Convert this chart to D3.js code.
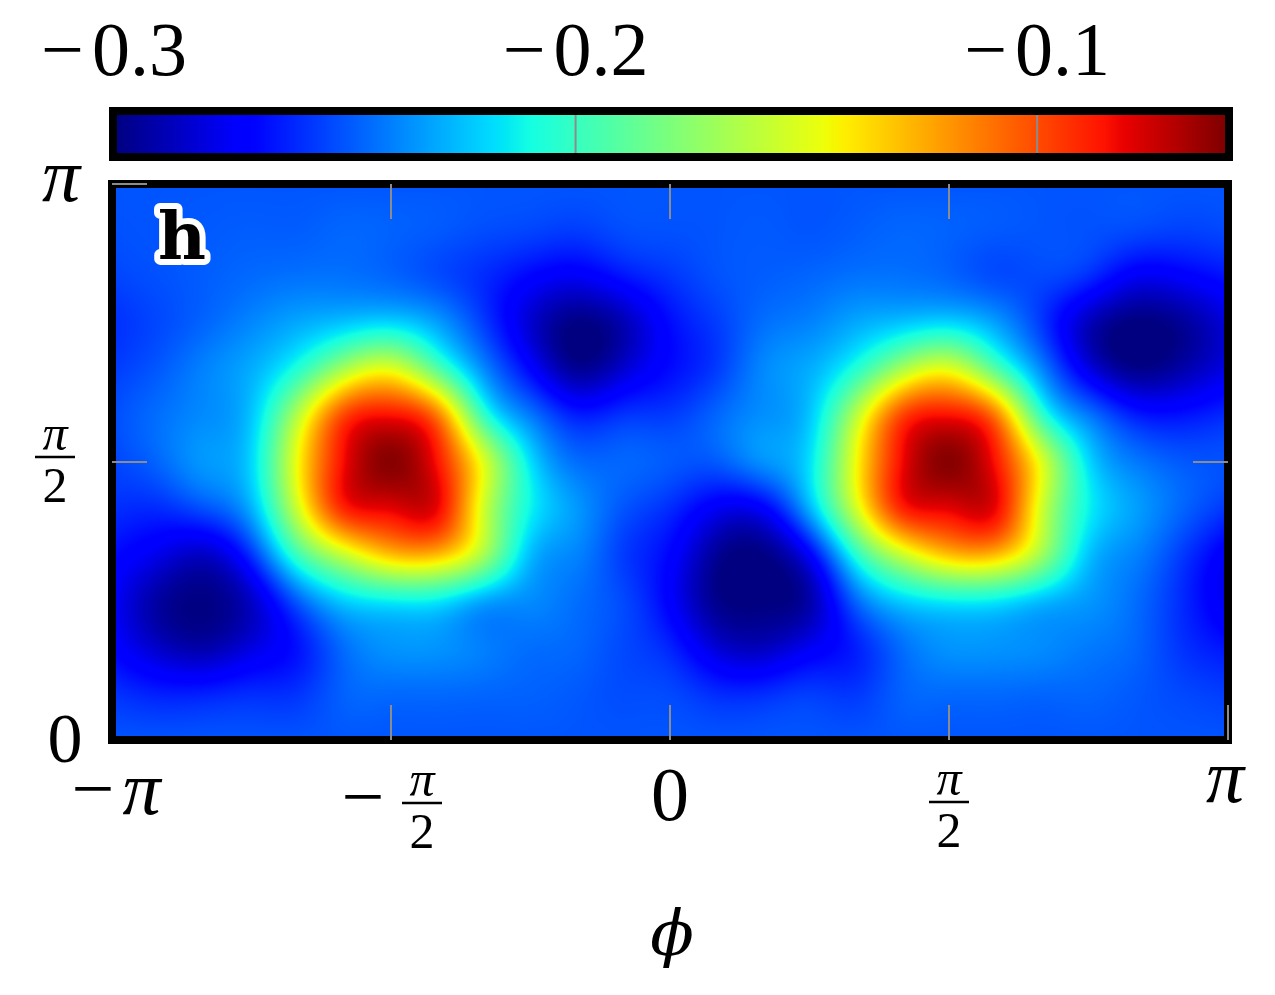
<!DOCTYPE html>
<html lang="en">
<head>
<meta charset="UTF-8">
<title>h map</title>
<script src="https://cdn.jsdelivr.net/npm/d3@7"></script>
<style>
  html, body { margin: 0; padding: 0; background: #fff; }
  svg { display: block; }
  .tex { font-family: 'Liberation Serif', 'Times New Roman', serif; fill: #000; }
</style>
</head>
<body>
<svg id="chart" width="1275" height="995"></svg>
<script>
// grid of the field (degrees)
const phiDeg = [-180, -165, -150, -135, -120, -105, -90, -75, -60, -45, -30, -15, 0,
                15, 30, 45, 60, 75, 90, 105, 120, 135, 150, 165, 180];
const thetaDeg = [180, 165, 150, 135, 120, 105, 90, 75, 60, 45, 30, 15, 0];

// one column per phi, values from theta = pi (top) down to 0
const fieldByPhi = [
  [-0.250,-0.251,-0.254,-0.259,-0.256,-0.252,-0.254,-0.259,-0.268,-0.273,-0.270,-0.258,-0.250],
  [-0.250,-0.250,-0.251,-0.253,-0.249,-0.244,-0.246,-0.260,-0.278,-0.293,-0.285,-0.263,-0.250],
  [-0.250,-0.249,-0.248,-0.246,-0.239,-0.237,-0.234,-0.251,-0.285,-0.299,-0.291,-0.263,-0.250],
  [-0.250,-0.248,-0.245,-0.238,-0.229,-0.223,-0.219,-0.228,-0.258,-0.285,-0.280,-0.260,-0.250],
  [-0.250,-0.248,-0.243,-0.230,-0.205,-0.162,-0.145,-0.155,-0.198,-0.248,-0.266,-0.258,-0.250],
  [-0.250,-0.246,-0.243,-0.223,-0.166,-0.098,-0.083,-0.090,-0.157,-0.221,-0.244,-0.247,-0.250],
  [-0.250,-0.247,-0.246,-0.219,-0.150,-0.085,-0.061,-0.080,-0.130,-0.213,-0.235,-0.245,-0.250],
  [-0.250,-0.249,-0.252,-0.232,-0.190,-0.112,-0.086,-0.082,-0.129,-0.214,-0.235,-0.245,-0.250],
  [-0.250,-0.252,-0.260,-0.256,-0.237,-0.200,-0.152,-0.155,-0.168,-0.230,-0.240,-0.246,-0.250],
  [-0.250,-0.254,-0.270,-0.283,-0.270,-0.241,-0.217,-0.212,-0.225,-0.237,-0.244,-0.247,-0.250],
  [-0.250,-0.256,-0.275,-0.299,-0.295,-0.263,-0.244,-0.234,-0.239,-0.244,-0.246,-0.249,-0.250],
  [-0.250,-0.252,-0.266,-0.289,-0.283,-0.258,-0.246,-0.250,-0.256,-0.253,-0.253,-0.252,-0.250],
  [-0.250,-0.251,-0.258,-0.268,-0.268,-0.256,-0.249,-0.260,-0.270,-0.272,-0.262,-0.253,-0.250],
  [-0.250,-0.250,-0.251,-0.256,-0.256,-0.246,-0.249,-0.275,-0.295,-0.297,-0.282,-0.260,-0.250],
  [-0.250,-0.249,-0.248,-0.244,-0.238,-0.236,-0.236,-0.272,-0.299,-0.300,-0.287,-0.260,-0.250],
  [-0.250,-0.250,-0.246,-0.239,-0.229,-0.223,-0.217,-0.228,-0.272,-0.291,-0.276,-0.256,-0.250],
  [-0.250,-0.248,-0.243,-0.230,-0.205,-0.162,-0.146,-0.155,-0.205,-0.246,-0.263,-0.257,-0.250],
  [-0.250,-0.246,-0.243,-0.223,-0.166,-0.098,-0.083,-0.090,-0.157,-0.221,-0.244,-0.247,-0.250],
  [-0.250,-0.247,-0.246,-0.219,-0.150,-0.085,-0.061,-0.080,-0.130,-0.213,-0.235,-0.245,-0.250],
  [-0.250,-0.249,-0.252,-0.232,-0.190,-0.112,-0.086,-0.082,-0.129,-0.214,-0.235,-0.245,-0.250],
  [-0.250,-0.250,-0.253,-0.257,-0.238,-0.200,-0.152,-0.155,-0.170,-0.225,-0.237,-0.246,-0.250],
  [-0.250,-0.251,-0.260,-0.287,-0.278,-0.241,-0.218,-0.212,-0.223,-0.234,-0.241,-0.246,-0.250],
  [-0.250,-0.253,-0.275,-0.300,-0.297,-0.263,-0.241,-0.232,-0.239,-0.244,-0.246,-0.249,-0.250],
  [-0.250,-0.255,-0.273,-0.295,-0.291,-0.266,-0.249,-0.246,-0.256,-0.260,-0.258,-0.253,-0.250],
  [-0.250,-0.253,-0.266,-0.280,-0.278,-0.260,-0.251,-0.258,-0.275,-0.278,-0.266,-0.256,-0.250]
];

const colorMin = -0.3, colorMax = -0.0593;
const cbTicks = [-0.3, -0.2, -0.1];
const cbTickLabels = ['0.3', '0.2', '0.1'];   // drawn with a leading minus

const xTickValues = [-Math.PI, -Math.PI / 2, 0, Math.PI / 2, Math.PI];
const xTickLabels = [
  { sign: '\u2212', main: '\u03C0' },
  { sign: '\u2212', num: '\u03C0', den: '2' },
  { main: '0' },
  { num: '\u03C0', den: '2' },
  { main: '\u03C0' }
];
const yTickValues = [0, Math.PI / 2, Math.PI];
const yTickLabels = [
  { main: '0' },
  { num: '\u03C0', den: '2' },
  { main: '\u03C0' }
];

const svg = d3.select('#chart');

const x = d3.scaleLinear().domain([-Math.PI, Math.PI]).range([112, 1228]);
const y = d3.scaleLinear().domain([0, Math.PI]).range([740, 184]);
const cb = d3.scaleLinear().domain([colorMin, colorMax]).range([114, 1225]);

// matplotlib-style jet
const jetR = d3.scaleLinear().domain([0, 0.35, 0.66, 0.89, 1]).range([0, 0, 1, 1, 0.5]).clamp(true);
const jetG = d3.scaleLinear().domain([0, 0.125, 0.375, 0.64, 0.91, 1]).range([0, 0, 1, 1, 0, 0]).clamp(true);
const jetB = d3.scaleLinear().domain([0, 0.11, 0.34, 0.65, 1]).range([0.5, 1, 1, 0, 0]).clamp(true);
const tOf = d3.scaleLinear().domain([colorMin, colorMax]).range([0, 1]).clamp(true);
function jet(v) {
  const t = tOf(v);
  return [Math.round(jetR(t) * 255), Math.round(jetG(t) * 255), Math.round(jetB(t) * 255)];
}

// natural cubic spline on a unit-spaced grid: second derivatives
function splineM(ys) {
  const n = ys.length, M = new Array(n).fill(0);
  if (n < 3) return M;
  const c = new Array(n).fill(0), d = new Array(n).fill(0);
  for (let i = 1; i < n - 1; i++) {
    const r = 6 * (ys[i + 1] - 2 * ys[i] + ys[i - 1]);
    const m = 4 - (i > 1 ? c[i - 1] : 0);
    c[i] = 1 / m;
    d[i] = (r - (i > 1 ? d[i - 1] : 0)) / m;
  }
  for (let i = n - 2; i >= 1; i--) M[i] = d[i] - c[i] * M[i + 1];
  return M;
}
function splineAt(ys, M, u) {
  const n = ys.length;
  const i = Math.max(0, Math.min(n - 2, Math.floor(u)));
  const t = u - i, s = 1 - t;
  return s * ys[i] + t * ys[i + 1] + ((s * s * s - s) * M[i] + (t * t * t - t) * M[i + 1]) / 6;
}

const nPhi = phiDeg.length, nTheta = thetaDeg.length;
const phiIdx = d3.scaleLinear().domain([phiDeg[0], phiDeg[nPhi - 1]]).range([0, nPhi - 1]);
const thetaIdx = d3.scaleLinear().domain([thetaDeg[0], thetaDeg[nTheta - 1]]).range([0, nTheta - 1]);
const colM = fieldByPhi.map(splineM);

// heat map image
const x0 = x.range()[0], x1 = x.range()[1], yTop = y.range()[1], yBot = y.range()[0];
const W = Math.round(x1 - x0), H = Math.round(yBot - yTop);
const canvas = document.createElement('canvas');
canvas.width = W; canvas.height = H;
const ctx = canvas.getContext('2d');
const img = ctx.createImageData(W, H);
const pxU = d3.range(W).map(px => phiIdx(x.invert(x0 + px + 0.5) * 180 / Math.PI));
for (let py = 0; py < H; py++) {
  const v = thetaIdx(y.invert(yTop + py + 0.5) * 180 / Math.PI);
  const rowVals = fieldByPhi.map((col, k) => splineAt(col, colM[k], v));
  const rowM = splineM(rowVals);
  for (let px = 0; px < W; px++) {
    const c = jet(splineAt(rowVals, rowM, pxU[px]));
    const k = (py * W + px) * 4;
    img.data[k] = c[0]; img.data[k + 1] = c[1]; img.data[k + 2] = c[2]; img.data[k + 3] = 255;
  }
}
ctx.putImageData(img, 0, 0);
svg.append('image')
  .attr('x', x0).attr('y', yTop).attr('width', W).attr('height', H)
  .attr('preserveAspectRatio', 'none')
  .attr('href', canvas.toDataURL());

// plot frame
svg.append('rect')
  .attr('x', x0).attr('y', yTop).attr('width', W).attr('height', H)
  .attr('fill', 'none').attr('stroke', '#000').attr('stroke-width', 8);

// inner gray ticks
const tickLen = 35, tickColor = '#8c8c8c';
const ticks = svg.append('g').attr('stroke', tickColor).attr('stroke-width', 2);
xTickValues.slice(1, 4).forEach(v => {
  ticks.append('line').attr('x1', x(v)).attr('x2', x(v)).attr('y1', yTop).attr('y2', yTop + tickLen);
});
xTickValues.slice(1).forEach(v => {
  ticks.append('line').attr('x1', x(v)).attr('x2', x(v)).attr('y1', yBot - tickLen).attr('y2', yBot);
});
yTickValues.slice(1).forEach(v => {
  ticks.append('line').attr('x1', x0).attr('x2', x0 + tickLen).attr('y1', y(v)).attr('y2', y(v));
});
ticks.append('line').attr('x1', x1 - tickLen).attr('x2', x1).attr('y1', y(Math.PI / 2)).attr('y2', y(Math.PI / 2));

// colour bar
const cbX0 = 117, cbX1 = 1225, cbY0 = 115, cbY1 = 153;
const grad = svg.append('defs').append('linearGradient')
  .attr('id', 'jetGrad').attr('gradientUnits', 'userSpaceOnUse')
  .attr('x1', cbX0).attr('x2', cbX1).attr('y1', 0).attr('y2', 0);
d3.range(0, 201).forEach(k => {
  const pos = cbX0 + (cbX1 - cbX0) * k / 200;
  const c = jet(cb.invert(pos));
  grad.append('stop').attr('offset', (k / 200 * 100) + '%').attr('stop-color', `rgb(${c[0]},${c[1]},${c[2]})`);
});
svg.append('rect')
  .attr('x', cbX0).attr('y', cbY0).attr('width', cbX1 - cbX0).attr('height', cbY1 - cbY0)
  .attr('fill', 'url(#jetGrad)');
cbTicks.slice(1).forEach(v => {
  svg.append('line').attr('x1', cb(v)).attr('x2', cb(v)).attr('y1', cbY0).attr('y2', cbY1)
    .attr('stroke', tickColor).attr('stroke-width', 2);
});
svg.append('rect')
  .attr('x', cbX0 - 4).attr('y', cbY0 - 4).attr('width', cbX1 - cbX0 + 8).attr('height', cbY1 - cbY0 + 8)
  .attr('fill', 'none').attr('stroke', '#000').attr('stroke-width', 8);

cbTicks.forEach((v, i) => {
  const t = svg.append('text').attr('class', 'tex')
    .attr('x', cb(v)).attr('y', 75).attr('text-anchor', 'middle').attr('font-size', 76);
  t.append('tspan').text('\u2212');
  t.append('tspan').attr('dx', 8).text(cbTickLabels[i]);
});

// tick label helper: plain text or a small fraction
function fraction(g, cx, barY, spec) {
  const fs = 50, bw = 40;
  g.append('text').attr('class', 'tex').attr('x', cx).attr('y', barY - 7)
    .attr('text-anchor', 'middle').attr('font-size', fs).attr('font-style', 'italic').text(spec.num);
  g.append('line').attr('x1', cx - bw / 2).attr('x2', cx + bw / 2).attr('y1', barY).attr('y2', barY)
    .attr('stroke', '#000').attr('stroke-width', 2.6);
  g.append('text').attr('class', 'tex').attr('x', cx).attr('y', barY + 45)
    .attr('text-anchor', 'middle').attr('font-size', fs).text(spec.den);
}

const labels = svg.append('g');
xTickValues.forEach((v, i) => {
  const spec = xTickLabels[i];
  const cx = x(v);
  if (spec.num) {
    if (spec.sign) {
      labels.append('text').attr('class', 'tex').attr('x', cx - 28).attr('y', 822)
        .attr('text-anchor', 'middle').attr('font-size', 76).text(spec.sign);
      fraction(labels, cx + 31, 803, spec);
    } else {
      fraction(labels, cx, 802, spec);
    }
  } else {
    const isPi = spec.main === '\u03C0';
    const t = labels.append('text').attr('class', 'tex')
      .attr('x', cx + (spec.sign ? 4 : (isPi ? -3 : 0)))
      .attr('y', spec.sign ? 814 : (isPi ? 802 : 820))
      .attr('text-anchor', 'middle').attr('font-size', 76);
    if (spec.sign) t.append('tspan').text(spec.sign);
    t.append('tspan').attr('dx', spec.sign ? 8 : 0)
      .attr('font-style', isPi ? 'italic' : 'normal').text(spec.main);
  }
});

yTickValues.forEach((v, i) => {
  const spec = yTickLabels[i];
  const cy = y(v);
  if (spec.num) {
    fraction(labels, 55, cy - 5, spec);
  } else {
    const isPi = spec.main === '\u03C0';
    labels.append('text').attr('class', 'tex')
      .attr('x', isPi ? 61 : 65).attr('y', cy + (isPi ? 17 : 22))
      .attr('text-anchor', 'middle').attr('font-size', isPi ? 76 : 70)
      .attr('font-style', isPi ? 'italic' : 'normal').text(spec.main);
  }
});

// axis title
svg.append('text')
  .attr('x', x(0) + 2).attr('y', 955)
  .attr('text-anchor', 'middle')
  .attr('font-family', "'DejaVu Serif', serif").attr('font-style', 'italic').attr('font-size', 64)
  .text('\u03D5');

// panel letter
svg.append('text')
  .attr('x', 158).attr('y', 259)
  .attr('font-family', "'DejaVu Serif', serif").attr('font-weight', 'bold').attr('font-size', 66)
  .attr('fill', '#000').attr('stroke', '#fff').attr('stroke-width', 12)
  .attr('stroke-linejoin', 'round').attr('paint-order', 'stroke')
  .text('h');
</script>
</body>
</html>
